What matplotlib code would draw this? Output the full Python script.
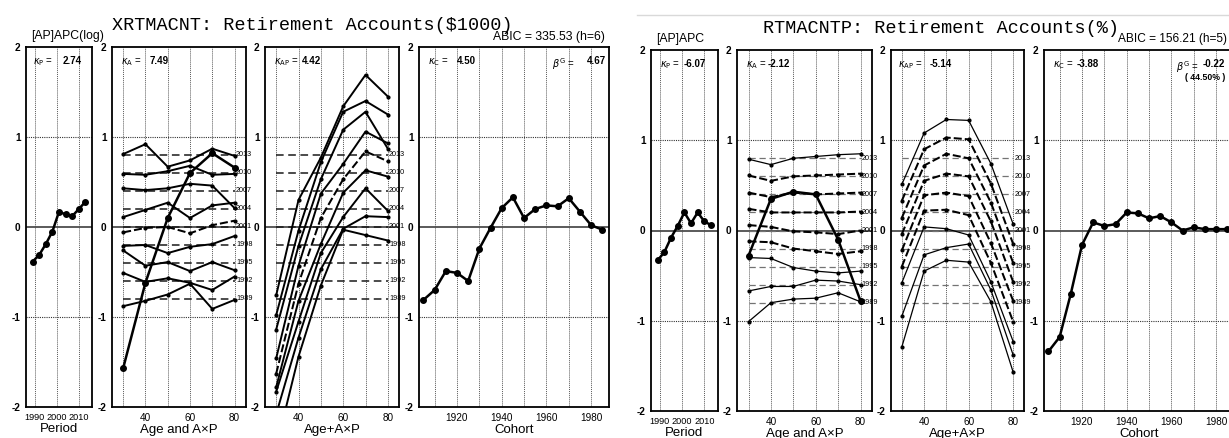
import matplotlib
matplotlib.use("Agg")
import matplotlib.pyplot as plt
from matplotlib.lines import Line2D

plt.rcParams["font.family"] = ["Liberation Sans", "DejaVu Sans"]
plt.rcParams["axes.unicode_minus"] = False

W, H = 1229, 438

# ---- shared categories ----
periods = [1989, 1992, 1995, 1998, 2001, 2004, 2007, 2010, 2013]
ages = [30, 40, 50, 60, 70, 80]
cohorts = [1905, 1910, 1915, 1920, 1925, 1930, 1935, 1940, 1945,
           1950, 1955, 1960, 1965, 1970, 1975, 1980, 1985]
ref_levels = [-0.8, -0.6, -0.4, -0.2, 0.0, 0.2, 0.4, 0.6, 0.8]

# ---- left chart: XRTMACNT ----
left_period = [-0.385, -0.31, -0.19, -0.05, 0.17, 0.14, 0.12, 0.20, 0.28]
left_age = [-1.57, -0.62, 0.10, 0.60, 0.82, 0.66]
left_cohort = [-0.81, -0.70, -0.49, -0.51, -0.60, -0.24, -0.01, 0.21, 0.33,
               0.10, 0.20, 0.24, 0.23, 0.32, 0.17, 0.02, -0.03]
# rows follow `periods`
left_axp = [
    [-0.88, -0.82, -0.75, -0.63, -0.91, -0.81],
    [-0.51, -0.61, -0.57, -0.62, -0.70, -0.55],
    [-0.26, -0.43, -0.39, -0.49, -0.39, -0.48],
    [-0.21, -0.20, -0.29, -0.22, -0.19, -0.10],
    [-0.06, -0.01, 0.00, -0.07, 0.02, 0.07],
    [0.11, 0.19, 0.27, 0.10, 0.24, 0.27],
    [0.43, 0.41, 0.43, 0.48, 0.46, 0.21],
    [0.59, 0.58, 0.62, 0.68, 0.58, 0.59],
    [0.81, 0.92, 0.67, 0.74, 0.87, 0.79],
]
left_age_axp = [
    [-2.45, -1.44, -0.65, -0.03, -0.09, -0.15],
    [-2.08, -1.23, -0.47, -0.02, 0.12, 0.11],
    [-1.83, -1.05, -0.29, 0.11, 0.43, 0.18],
    [-1.78, -0.82, -0.19, 0.38, 0.63, 0.56],
    [-1.63, -0.63, 0.10, 0.53, 0.84, 0.73],
    [-1.46, -0.43, 0.37, 0.70, 1.06, 0.93],
    [-1.14, -0.21, 0.53, 1.08, 1.28, 0.87],
    [-0.98, -0.04, 0.72, 1.28, 1.40, 1.25],
    [-0.76, 0.30, 0.77, 1.34, 1.69, 1.45],
]
left_dashed = [2001]
left_kappa = ["2.74", "7.49", "4.42", "4.50"]
left_beta = "4.67"

# ---- right chart: RTMACNTP ----
right_period = [-0.33, -0.24, -0.08, 0.05, 0.20, 0.08, 0.20, 0.10, 0.06]
right_age = [-0.28, 0.35, 0.43, 0.40, -0.10, -0.78]
right_cohort = [-1.34, -1.18, -0.70, -0.16, 0.09, 0.05, 0.07, 0.20, 0.19,
                0.135, 0.16, 0.09, 0.0, 0.035, 0.015, 0.015, 0.015]
right_axp = [
    [-1.01, -0.80, -0.76, -0.75, -0.69, -0.79],
    [-0.67, -0.62, -0.62, -0.55, -0.56, -0.60],
    [-0.30, -0.31, -0.41, -0.45, -0.47, -0.45],
    [-0.12, -0.13, -0.20, -0.23, -0.26, -0.23],
    [0.06, 0.04, -0.01, -0.02, -0.04, 0.00],
    [0.24, 0.20, 0.20, 0.20, 0.20, 0.21],
    [0.42, 0.37, 0.42, 0.40, 0.41, 0.42],
    [0.61, 0.55, 0.60, 0.61, 0.62, 0.63],
    [0.79, 0.73, 0.80, 0.82, 0.84, 0.85],
]
right_age_axp = [
    [-1.29, -0.45, -0.33, -0.35, -0.79, -1.57],
    [-0.95, -0.27, -0.19, -0.15, -0.66, -1.38],
    [-0.58, 0.04, 0.02, -0.05, -0.57, -1.23],
    [-0.40, 0.22, 0.23, 0.17, -0.36, -1.01],
    [-0.22, 0.39, 0.42, 0.38, -0.14, -0.78],
    [-0.04, 0.55, 0.63, 0.60, 0.10, -0.57],
    [0.14, 0.72, 0.85, 0.80, 0.31, -0.36],
    [0.33, 0.90, 1.03, 1.01, 0.52, -0.15],
    [0.51, 1.08, 1.23, 1.22, 0.74, 0.07],
]
right_dashed = [2010, 2007, 2004, 2001, 1998]
right_kappa = ["-6.07", "-2.12", "-5.14", "-3.88"]
right_beta = "-0.22"


def pixel_axes(fig, x0, x1, y_top, y_bot):
    return fig.add_axes([x0 / W, 1 - y_bot / H, (x1 - x0) / W, (y_bot - y_top) / H])


def style_panel(ax, xlim, grid_x, tick_x, xlabel, xsize=7.2):
    ax.set_xlim(*xlim)
    ax.set_ylim(-2, 2)
    ax.set_yticks([-2, -1, 0, 1, 2])
    ax.set_yticklabels(["-2", "-1", "0", "1", "2"], fontweight="bold")
    ax.set_xticks(tick_x)
    for gx in grid_x:
        ax.axvline(gx, color="0.35", lw=0.7, ls=(0, (1, 1)), zorder=1)
    for gy in (-1, 1):
        ax.axhline(gy, color="0.2", lw=0.8, ls=(0, (1, 1)), zorder=1)
    ax.axhline(0, color="0.3", lw=1.3, zorder=1)
    ax.tick_params(length=0, labelsize=7.2, pad=4)
    ax.tick_params(axis="x", labelsize=xsize)
    for s in ax.spines.values():
        s.set_linewidth(1.3)
    ax.set_xlabel(xlabel, fontsize=9.5, labelpad=1)


def kappa(ax, name, value, xl, xv, y=0.975):
    ax.text(xl, y, r"$\kappa_{\rm %s}$ =" % name, transform=ax.transAxes,
            fontsize=7, va="top")
    ax.text(xv, y, value, transform=ax.transAxes, fontsize=7, va="top",
            fontweight="bold")


def period_curves(ax, rows, dashed, solid_lw, ref_color, ref_lw):
    for lvl, p in zip(ref_levels, periods):
        ax.plot([ages[0], ages[-1]], [lvl, lvl], color=ref_color, lw=ref_lw,
                ls=(0, (5, 3)), zorder=2)
        ax.text(80.6, lvl, str(p), fontsize=5.2, va="center", ha="left",
                clip_on=False, zorder=2)
    for p, row in zip(periods, rows):
        if p in dashed:
            ax.plot(ages, row, color="k", lw=1.45, ls=(0, (4, 1.5)),
                    marker="o", ms=2, zorder=3)
        else:
            ax.plot(ages, row, color="k", lw=solid_lw, marker="o", ms=2,
                    zorder=3)


def draw_chart(fig, xs, y_top, y_bot, period, age, axp, age_axp, cohort,
               dashed, kap, beta, kpos, solid_lw, ref_color, ref_lw):
    ax_p = pixel_axes(fig, xs[0][0], xs[0][1], y_top, y_bot)
    style_panel(ax_p, (1986, 2016), [1990, 2000, 2010], [1990, 2000, 2010],
                "Period", xsize=6.6)
    ax_p.plot(periods, period, color="k", lw=1.8, marker="o", ms=4, zorder=4)
    kappa(ax_p, "P", kap[0], *kpos[0])

    ax_a = pixel_axes(fig, xs[1][0], xs[1][1], y_top, y_bot)
    style_panel(ax_a, (25, 85), ages, [40, 60, 80], "Age and A\u00d7P")
    period_curves(ax_a, axp, dashed, solid_lw, ref_color, ref_lw)
    ax_a.plot(ages, age, color="k", lw=1.8, marker="o", ms=4, zorder=4)
    kappa(ax_a, "A", kap[1], *kpos[1])

    ax_ap = pixel_axes(fig, xs[2][0], xs[2][1], y_top, y_bot)
    style_panel(ax_ap, (25, 85), ages, [40, 60, 80], "Age+A\u00d7P")
    period_curves(ax_ap, age_axp, dashed, solid_lw, ref_color, ref_lw)
    kappa(ax_ap, "AP", kap[2], *kpos[2])

    ax_c = pixel_axes(fig, xs[3][0], xs[3][1], y_top, y_bot)
    style_panel(ax_c, (1903, 1988), list(range(1910, 1990, 10)),
                [1920, 1940, 1960, 1980], "Cohort")
    ax_c.plot(cohorts, cohort, color="k", lw=1.8, marker="o", ms=4, zorder=4)
    kappa(ax_c, "C", kap[3], *kpos[3])
    ax_c.text(kpos[4][0], 0.975, r"$\beta^{\rm G}$ =", transform=ax_c.transAxes,
              fontsize=7, va="top")
    ax_c.text(kpos[4][1], 0.975, beta, transform=ax_c.transAxes,
              fontsize=7, va="top", fontweight="bold")
    return ax_c


fig = plt.figure(figsize=(W / 100, H / 100), dpi=100)

# left chart
draw_chart(fig, [(26, 92), (112, 245.7), (265, 399), (419, 609)], 47, 407,
           left_period, left_age, left_axp, left_age_axp, left_cohort,
           left_dashed, left_kappa, left_beta,
           [(0.10, 0.56), (0.065, 0.284), (0.067, 0.276), (0.047, 0.2), (0.70, 0.884)],
           1.4, "0.1", 1.1)
fig.text(312.5 / W, 1 - 30 / H, "XRTMACNT: Retirement Accounts($1000)",
         family="Liberation Mono", fontsize=13.3, ha="center", va="baseline")
fig.text(31 / W, 1 - 36 / H, "[AP]APC(log)", fontsize=8.8, va="center")
fig.text(605 / W, 1 - 37 / H, "ABIC = 335.53 (h=6)", fontsize=8.8,
         va="center", ha="right")

# right chart
ax_rc = draw_chart(fig, [(651, 717.7), (737.3, 871.7), (890.7, 1024.3), (1044, 1234)],
                   50, 411, right_period, right_age, right_axp, right_age_axp,
                   right_cohort, right_dashed, right_kappa, right_beta,
                   [(0.13, 0.485), (0.062, 0.226), (0.054, 0.294), (0.049, 0.172),
                    (0.696, 0.836)],
                   0.9, "0.45", 0.9)
ax_rc.text(0.74, 0.935, "( 44.50% )", transform=ax_rc.transAxes, fontsize=6.3,
           va="top", fontweight="bold")
fig.text(941 / W, 1 - 33 / H, "RTMACNTP: Retirement Accounts(%)",
         family="Liberation Mono", fontsize=13.3, ha="center", va="baseline")
fig.text(656 / W, 1 - 39 / H, "[AP]APC", fontsize=8.8, va="center")
fig.text(1227 / W, 1 - 39 / H, "ABIC = 156.21 (h=5)", fontsize=8.6, va="center",
         ha="right")
fig.add_artist(Line2D([637 / W, 1.0], [1 - 15 / H, 1 - 15 / H],
                      transform=fig.transFigure, color="0.85", lw=1))

fig.savefig("out.png", dpi=100)
